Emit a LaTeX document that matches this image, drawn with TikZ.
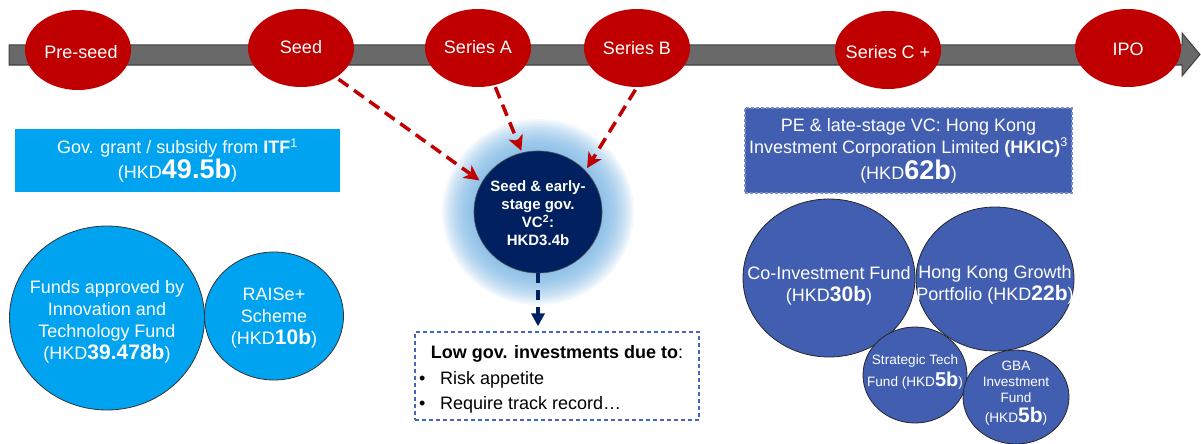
\documentclass[tikz,border=0pt]{standalone}
\usepackage{fontspec}
\setmainfont{Liberation Sans}
\usetikzlibrary{shapes.geometric,arrows.meta}
\definecolor{stagered}{RGB}{192,0,0}
\definecolor{bargray}{RGB}{105,105,105}
\definecolor{bardark}{RGB}{64,64,64}
\definecolor{itfblue}{RGB}{0,163,240}
\definecolor{hkblue}{RGB}{66,94,176}
\definecolor{navy}{RGB}{0,32,96}
\definecolor{glowblue}{RGB}{110,175,225}
\definecolor{boxborder}{RGB}{68,100,190}
\newcommand\bignum[1]{{\fontsize{27}{22}\selectfont\bfseries #1}}
\newcommand\midnum[1]{{\fontsize{21}{22}\selectfont\bfseries #1}}
\tikzset{
  stage/.style={ellipse, fill=stagered, minimum width=106pt, minimum height=78pt, inner sep=0pt},
  itfcirc/.style={ellipse, fill=itfblue, draw=black!80, line width=0.8pt, inner sep=0pt},
  hkcirc/.style={ellipse, fill=hkblue, draw=black!85, line width=0.8pt, inner sep=0pt},
  wtxt/.style={text=white, align=center, font=\fontsize{18}{22}\selectfont, inner sep=0pt},
  stxt/.style={text=white, align=center, font=\fontsize{13.6}{16}\selectfont, inner sep=0pt},
  redarrow/.style={draw=stagered, line width=3.5pt, dash pattern=on 12pt off 7pt, -{Stealth[length=15pt,width=15pt,inset=4pt]}},
  navyarrow/.style={draw=navy, line width=4pt, dash pattern=on 10pt off 7pt, -{Triangle[length=13pt,width=13pt]}},
  blk/.style={text=black, font=\fontsize{18}{22}\selectfont, inner sep=0pt}
}
\begin{document}
\begin{tikzpicture}[x=1pt,y=-1pt]
\useasboundingbox (0,0) rectangle (1201,444);
% timeline bar
\filldraw[fill=bargray, draw=bardark, line width=1pt]
  (9,45) -- (1182,45) -- (1182,33) -- (1200,54.5) -- (1182,76) -- (1182,65) -- (9,65) -- cycle;
% stages
\node[stage, minimum height=80pt] (preseed) at (78,50) {};
\node[stage] (seed) at (301,48) {};
\node[stage] (seriesA) at (478,48) {};
\node[stage] (seriesB) at (637,48) {};
\node[stage] (seriesC) at (888,50) {};
\node[stage] (ipo) at (1128,48) {};
\node[wtxt] (preseedt) at (81,52) {Pre-seed};
\node[wtxt] (seedt) at (301,47) {Seed};
\node[wtxt] (seriesAt) at (478,47) {Series A};
\node[wtxt] (seriesBt) at (637,48) {Series B};
\node[wtxt] (seriesCt) at (888,52) {Series C +};
\node[wtxt] (ipot) at (1128,49) {IPO};
% ITF box
\node[fill=itfblue, minimum width=325pt, minimum height=63pt, inner sep=0pt, text=white, align=center, font=\fontsize{18}{22}\selectfont] (itf) at (177.5,160.5)
  {Gov. grant / subsidy from \textbf{ITF}\textsuperscript{1}\\[1pt](HKD\bignum{49.5b})};
\node[itfcirc, minimum width=195pt, minimum height=184pt] (funds) at (107,318) {};
\node[wtxt] (fundst) at (107,322) {Funds approved by\\Innovation and\\Technology Fund\\(HKD\midnum{39.478b})};
\node[itfcirc, minimum width=139pt, minimum height=128pt] (raise) at (274,316) {};
\node[wtxt] (raiset) at (274,318) {RAISe+\\Scheme\\(HKD\midnum{10b})};
% VC glow and circle
\foreach \r in {96,94,...,64} {
  \fill[glowblue, opacity=0.085] (538,212) ellipse ({\r pt} and {\r pt - 3pt});
}
\node[ellipse, fill=navy, draw=black!70, line width=0.6pt, minimum width=128pt, minimum height=122pt, inner sep=0pt] (vc) at (538,212) {};
\node[text=white, align=center, inner sep=0pt, font=\fontsize{15}{18}\selectfont\bfseries] (vct) at (538,213)
  {Seed \& early-\\stage gov.\\VC\textsuperscript{2}:\\HKD3.4b};
% red arrows
\draw[redarrow, shorten <=3pt, shorten >=3pt] (seed.-40) -- (vc.152);
\draw[redarrow, shorten <=2pt, shorten >=2pt] (seriesA.-66) -- (vc.105);
\draw[redarrow, shorten <=3pt, shorten >=3pt] (seriesB.south) -- (vc.41);
% low box
\node[draw=boxborder, line width=1.3pt, dash pattern=on 4pt off 3pt, minimum width=284pt, minimum height=88pt, inner sep=0pt] (low) at (557,376) {};
\draw[navyarrow, shorten >=5pt] (vc.south) -- (vc.south |- low.north);
\node[blk, anchor=base] (lowtitle) at (557,358) {\textbf{Low gov. investments due to}:};
\node[blk, anchor=base west] (bul1) at (419,384) {\makebox[21pt][l]{•}Risk appetite};
\node[blk, anchor=base west] (bul2) at (419,409) {\makebox[21pt][l]{•}Require track record…};
% HKIC
\node[fill=hkblue, draw=hkblue!70!white, line width=1.5pt, dash pattern=on 3pt off 2pt, minimum width=327pt, minimum height=85pt, inner sep=0pt,
  text=white, align=center, font=\fontsize{18}{22}\selectfont] (hkic) at (908.5,150.5)
  {PE \& late-stage VC: Hong Kong\\Investment Corporation Limited \textbf{(HKIC)}\textsuperscript{3}\\[2pt](HKD\bignum{62b})};
\node[hkcirc, minimum width=172pt, minimum height=158pt] (coinv) at (829,278) {};
\node[wtxt] (coinvt) at (829,286) {Co-Investment Fund\\(HKD\midnum{30b})};
\node[hkcirc, minimum width=158pt, minimum height=144pt] (growth) at (995,279) {};
\node[wtxt] (growtht) at (995,285) {Hong Kong Growth\\Portfolio (HKD\midnum{22b})};
\node[hkcirc, minimum width=104pt, minimum height=96pt] (strat) at (915,375) {};
\node[stxt] (stratt) at (915,372) {Strategic Tech\\[4pt]Fund (HKD{\fontsize{20}{16}\selectfont\bfseries 5b})};
\node[hkcirc, minimum width=106pt, minimum height=94pt] (gba) at (1016,397) {};
\node[stxt] (gbat) at (1016,393) {GBA\\Investment\\Fund\\[4pt](HKD{\fontsize{21}{16}\selectfont\bfseries 5b})};
\end{tikzpicture}
\end{document}
